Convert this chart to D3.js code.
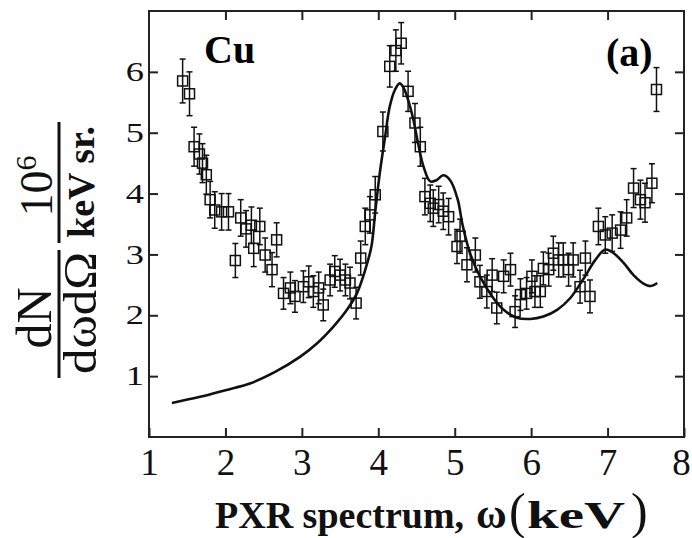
<!DOCTYPE html>
<html>
<head>
<meta charset="utf-8">
<script src="https://cdn.jsdelivr.net/npm/d3@7"></script>
<style>
  html, body { margin: 0; padding: 0; background: #fff; }
  svg { display: block; font-family: "Liberation Serif", "Times New Roman", serif; }
</style>
</head>
<body>
<div id="chart"></div>
<script>
'use strict'

var xTicks = [1, 2, 3, 4, 5, 6, 7, 8];
var yTicks = [1, 2, 3, 4, 5, 6];

// measured PXR points (keV, yield x 10^6, error)
var pxrEnergy = [1.44, 1.53, 1.59, 1.66, 1.70, 1.75, 1.80, 1.86, 1.95, 2.04,
  2.13, 2.20, 2.27, 2.34, 2.37, 2.45, 2.52, 2.61, 2.67, 2.76,
  2.85, 2.91, 3.02, 3.09, 3.15, 3.22, 3.28, 3.37, 3.43, 3.50,
  3.57, 3.63, 3.71, 3.77, 3.83, 3.89, 3.96, 4.06, 4.15, 4.23,
  4.30, 4.39, 4.48, 4.55, 4.61, 4.68, 4.72, 4.79, 4.85, 4.92,
  5.03, 5.07, 5.16, 5.27, 5.33, 5.42, 5.49, 5.55, 5.64, 5.73,
  5.79, 5.86, 5.94, 6.01, 6.05, 6.12, 6.16, 6.23, 6.29, 6.36,
  6.42, 6.49, 6.55, 6.64, 6.71, 6.77, 6.88, 6.97, 7.06, 7.17,
  7.25, 7.34, 7.43, 7.49, 7.58, 7.64];
var pxrYield = [5.85, 5.64, 4.77, 4.65, 4.50, 4.31, 3.90, 3.73, 3.70, 3.70,
  2.90, 3.60, 3.42, 3.48, 3.10, 3.46, 2.99, 2.75, 3.24, 2.36,
  2.45, 2.31, 2.47, 2.55, 2.39, 2.45, 2.17, 2.58, 2.72, 2.66,
  2.58, 2.53, 2.20, 2.94, 3.46, 3.65, 3.98, 5.02, 6.09, 6.35,
  6.47, 5.68, 5.16, 4.77, 3.95, 3.84, 3.76, 3.82, 3.71, 3.62,
  3.13, 3.30, 2.83, 2.99, 2.55, 2.39, 2.66, 2.12, 2.64, 2.75,
  2.06, 2.34, 2.36, 2.64, 2.39, 2.39, 2.77, 2.75, 3.02, 2.91,
  2.91, 2.75, 2.91, 2.47, 2.94, 2.31, 3.46, 3.32, 3.35, 3.40,
  3.60, 4.09, 3.90, 3.85, 4.17, 5.71];
var pxrError = [0.36, 0.36, 0.32, 0.33, 0.32, 0.32, 0.30, 0.30, 0.30, 0.30,
  0.28, 0.30, 0.30, 0.30, 0.30, 0.30, 0.28, 0.28, 0.28, 0.26,
  0.26, 0.26, 0.26, 0.26, 0.26, 0.26, 0.26, 0.26, 0.26, 0.26,
  0.26, 0.26, 0.26, 0.28, 0.30, 0.30, 0.30, 0.32, 0.34, 0.34,
  0.34, 0.33, 0.32, 0.32, 0.30, 0.30, 0.30, 0.30, 0.30, 0.30,
  0.28, 0.28, 0.28, 0.28, 0.27, 0.27, 0.27, 0.26, 0.27, 0.27,
  0.26, 0.26, 0.26, 0.27, 0.26, 0.26, 0.27, 0.27, 0.28, 0.28,
  0.28, 0.27, 0.28, 0.27, 0.28, 0.27, 0.30, 0.30, 0.30, 0.30,
  0.30, 0.32, 0.32, 0.32, 0.32, 0.36];

// theory curve
var theoryEnergy = [1.30, 1.67, 2.00, 2.32, 2.65, 2.98, 3.20, 3.41, 3.59, 3.72,
  3.83, 3.91, 3.96, 4.02, 4.09, 4.15, 4.22, 4.28, 4.33, 4.39,
  4.46, 4.52, 4.59, 4.68, 4.76, 4.85, 4.94, 5.04, 5.10, 5.20,
  5.33, 5.49, 5.64, 5.81, 5.99, 6.16, 6.34, 6.51, 6.69, 6.84,
  6.97, 7.08, 7.21, 7.34, 7.47, 7.56, 7.65];
var theoryYield = [0.56, 0.66, 0.77, 0.88, 1.07, 1.32, 1.54, 1.81, 2.09, 2.36,
  2.75, 3.13, 3.70, 4.34, 4.94, 5.43, 5.71, 5.81, 5.74, 5.54,
  5.21, 4.83, 4.45, 4.20, 4.22, 4.30, 4.22, 3.90, 3.50, 3.02,
  2.64, 2.31, 2.09, 1.96, 1.94, 1.98, 2.09, 2.28, 2.61, 2.91,
  3.08, 3.02, 2.86, 2.66, 2.52, 2.48, 2.53];

var width = 692, height = 538;
var margin = { top: 11, right: 8, bottom: 101, left: 149 };

var svg = d3.select('#chart').append('svg')
  .attr('width', width)
  .attr('height', height);

var x = d3.scaleLinear().domain([1, 8]).range([margin.left, width - margin.right]);
var y = d3.scaleLinear().domain([0, 7]).range([height - margin.bottom, margin.top]);

// frame
svg.append('rect')
  .attr('x', x(1)).attr('y', y(7))
  .attr('width', x(8) - x(1)).attr('height', y(0) - y(7))
  .attr('fill', 'none').attr('stroke', '#222').attr('stroke-width', 2);

// axes, ticks inward
var xAxis = svg.append('g')
  .attr('transform', 'translate(0,' + y(0) + ')')
  .call(d3.axisBottom(x).tickValues(xTicks).tickFormat(d3.format('d'))
    .tickSize(-9).tickPadding(12));
xAxis.selectAll('text').attr('font-size', 37).attr('fill', '#111')
  .attr('dx', function(d) { return d === 8 ? -3 : 0; });

svg.append('g')
  .attr('transform', 'translate(0,' + y(7) + ')')
  .call(d3.axisTop(x).tickValues(xTicks.slice(1, 7)).tickSize(-9).tickFormat(''));

var yAxis = svg.append('g')
  .attr('transform', 'translate(' + x(1) + ',0)')
  .call(d3.axisLeft(y).tickValues(yTicks).tickFormat(d3.format('d')).tickSize(-9));
yAxis.selectAll('text')
  .attr('x', null)
  .attr('font-size', 27)
  .attr('fill', '#111')
  .attr('transform', 'translate(-5,0) scale(1.35,1)');

svg.append('g')
  .attr('transform', 'translate(' + x(8) + ',0)')
  .call(d3.axisRight(y).tickValues(yTicks).tickSize(-9).tickFormat(''));

svg.selectAll('.domain').remove();
svg.selectAll('g').attr('font-family', null).attr('font-size', null);
svg.selectAll('.tick line').attr('stroke', '#222').attr('stroke-width', 2);

// theory line
var theory = theoryEnergy.map(function(e, i) { return [e, theoryYield[i]]; });
svg.append('path')
  .datum(theory)
  .attr('fill', 'none')
  .attr('stroke', '#111')
  .attr('stroke-width', 2.6)
  .attr('d', d3.line()
    .x(function(d) { return x(d[0]); })
    .y(function(d) { return y(d[1]); })
    .curve(d3.curveCatmullRom));

// data with error bars
var pts = pxrEnergy.map(function(e, i) {
  return { e: e, v: pxrYield[i], err: pxrError[i] };
});

var marks = svg.append('g')
  .attr('stroke', '#111')
  .attr('fill', 'none')
  .attr('stroke-width', 1.5);

var pt = marks.selectAll('g').data(pts).enter().append('g');
pt.append('line')
  .attr('x1', function(d) { return x(d.e); })
  .attr('x2', function(d) { return x(d.e); })
  .attr('y1', function(d) { return y(d.v + d.err); })
  .attr('y2', function(d) { return y(d.v - d.err); });
pt.append('line')
  .attr('x1', function(d) { return x(d.e) - 3; })
  .attr('x2', function(d) { return x(d.e) + 3; })
  .attr('y1', function(d) { return y(d.v + d.err); })
  .attr('y2', function(d) { return y(d.v + d.err); });
pt.append('line')
  .attr('x1', function(d) { return x(d.e) - 3; })
  .attr('x2', function(d) { return x(d.e) + 3; })
  .attr('y1', function(d) { return y(d.v - d.err); })
  .attr('y2', function(d) { return y(d.v - d.err); });
pt.append('rect')
  .attr('x', function(d) { return x(d.e) - 5; })
  .attr('y', function(d) { return y(d.v) - 5; })
  .attr('width', 10)
  .attr('height', 10);

// panel labels
svg.append('text')
  .attr('x', 204).attr('y', 63)
  .attr('font-size', 40).attr('font-weight', 'bold')
  .text('Cu');
svg.append('text')
  .attr('x', 606).attr('y', 66)
  .attr('font-size', 40).attr('font-weight', 'bold')
  .text('(a)');

// x title
var xt = svg.append('text')
  .attr('y', 528)
  .attr('font-weight', 'bold')
  .attr('fill', '#111');
xt.append('tspan').attr('x', 215).attr('font-size', 38).text('PXR spectrum,');
xt.append('tspan').attr('x', 476).attr('font-size', 42).text('ω');
xt.append('tspan').attr('x', 509).attr('font-size', 50).attr('font-weight', 'normal').text('(');
xt.append('tspan').attr('x', 527).attr('font-size', 38)
  .attr('textLength', 98).attr('lengthAdjust', 'spacingAndGlyphs').text('keV');
xt.append('tspan').attr('x', 631).attr('font-size', 50).attr('font-weight', 'normal').text(')');

// y title: dN/dωdΩ  10^6/keV sr.  (rotated; local x = -pageY, local y = pageX)
var yt = svg.append('g').attr('transform', 'rotate(-90)').attr('fill', '#111');
yt.append('line').attr('x1', -378).attr('x2', -250).attr('y1', 59).attr('y2', 59)
  .attr('stroke', '#111').attr('stroke-width', 3);
yt.append('line').attr('x1', -243).attr('x2', -122).attr('y1', 59).attr('y2', 59)
  .attr('stroke', '#111').attr('stroke-width', 3);
yt.append('text').attr('x', -318).attr('y', 51).attr('text-anchor', 'middle')
  .attr('font-size', 50).text('dN');
yt.append('text').attr('x', -313).attr('y', 96).attr('text-anchor', 'middle')
  .attr('font-size', 46).attr('textLength', 122).attr('lengthAdjust', 'spacingAndGlyphs')
  .text('dωdΩ');
var ten = yt.append('text').attr('x', -186).attr('y', 52).attr('text-anchor', 'middle')
  .attr('font-size', 46);
ten.append('tspan').text('10');
ten.append('tspan').attr('font-size', 30).attr('dy', -16).text('6');
yt.append('text').attr('x', -182).attr('y', 94).attr('text-anchor', 'middle')
  .attr('font-size', 38).attr('font-weight', 'bold')
  .attr('textLength', 112).attr('lengthAdjust', 'spacingAndGlyphs')
  .text('keV sr.');
</script>
</body>
</html>
